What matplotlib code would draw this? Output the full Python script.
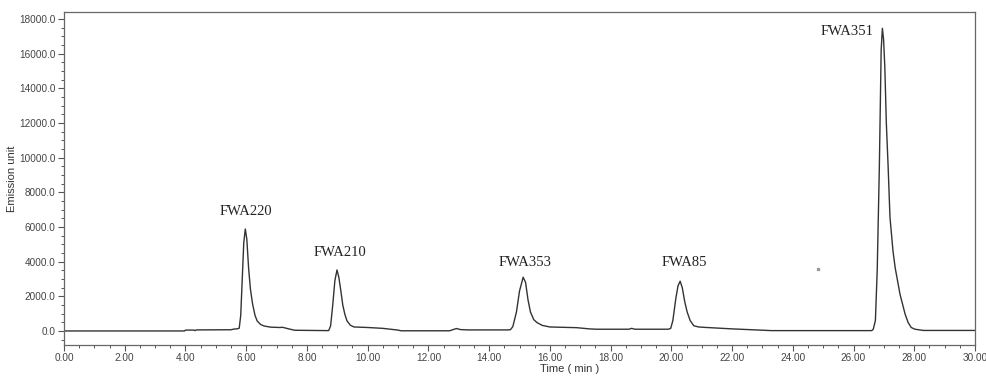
import matplotlib
matplotlib.use("Agg")
import matplotlib.pyplot as plt
from matplotlib.ticker import MultipleLocator, FormatStrFormatter

# Chromatogram trace (time in min, signal in emission units)
time_min = [0.0, 3.97, 4.0, 4.28, 4.32, 4.36, 5.5, 5.6, 5.7, 5.77, 5.82, 5.87, 5.92, 5.97,
            6.02, 6.08, 6.14, 6.21, 6.29, 6.36, 6.47, 6.58, 6.8, 7.1, 7.2, 7.4, 7.6, 8.7,
            8.72, 8.78, 8.85, 8.92, 8.99, 9.05, 9.11, 9.18, 9.25, 9.32, 9.43, 9.55, 10.0,
            10.5, 11.0, 11.1, 12.7, 12.85, 12.93, 13.05, 13.3, 14.6, 14.7, 14.78, 14.9,
            15.0, 15.12, 15.2, 15.28, 15.36, 15.47, 15.58, 15.75, 16.0, 16.88, 17.3,
            17.54, 18.6, 18.69, 18.8, 19.9, 19.98, 20.05, 20.15, 20.22, 20.29, 20.36,
            20.44, 20.52, 20.62, 20.74, 20.9, 21.16, 22.0, 23.3, 26.6, 26.65, 26.72, 26.78,
            26.85, 26.91, 26.95, 26.99, 27.03, 27.08, 27.14, 27.2, 27.3, 27.37, 27.53,
            27.7, 27.8, 27.9, 28.02, 28.3, 30.0]
signal = [0, 0, 50, 50, 20, 60, 70, 110, 120, 160, 900, 3000, 5100, 5880,
          5300, 3600, 2400, 1560, 900, 580, 380, 290, 220, 200, 210, 120, 40, 20,
          30, 300, 1500, 2900, 3520, 3100, 2400, 1500, 950, 580, 330, 230, 200,
          150, 50, 10, 10, 100, 140, 80, 60, 60, 70, 250, 1100,
          2300, 3100, 2800, 1800, 1100, 650, 480, 320, 230, 190, 120,
          100, 100, 150, 100, 100, 150, 600, 1900, 2600, 2870, 2500,
          1700, 1100, 600, 300, 230, 200, 120, 20, 20, 100, 600, 3500,
          9450, 16200, 17460, 16800, 15240, 12000, 9450, 6560, 4600, 3660, 2120,
          960, 480, 200, 100, 30, 30]

peak_names = ["FWA220", "FWA210", "FWA353", "FWA85", "FWA351"]
label_x = [5.98, 9.1, 15.2, 20.44, 25.78]
label_y = [6880, 4520, 3960, 3960, 17250]

artifact_x = [24.83]
artifact_y = [3590]

fig = plt.figure(figsize=(9.86, 3.76), dpi=100)
ax = fig.add_axes([64 / 986, 1 - 345 / 376, (975 - 64) / 986, (345 - 12) / 376])

ax.plot(time_min, signal, color="#333333", lw=1.0)
ax.plot(artifact_x, artifact_y, marker="s", ms=1.5, color="#999999", lw=0)

for name, x, y in zip(peak_names, label_x, label_y):
    ax.text(x, y, name, ha="center", va="center", fontsize=10.5,
            family="Liberation Serif", color="#222222")

ax.set_xlim(0, 30)
ax.set_ylim(-810, 18400)
ax.xaxis.set_major_locator(MultipleLocator(2))
ax.xaxis.set_minor_locator(MultipleLocator(0.5))
ax.yaxis.set_major_locator(MultipleLocator(2000))
ax.yaxis.set_minor_locator(MultipleLocator(500))
ax.xaxis.set_major_formatter(FormatStrFormatter("%.2f"))
ax.yaxis.set_major_formatter(FormatStrFormatter("%.1f"))

for lab in ax.get_xticklabels() + ax.get_yticklabels():
    lab.set_family("Liberation Sans")
ax.tick_params(axis="both", which="major", labelsize=7.2, length=4, width=0.8,
               color="#555555", labelcolor="#444444", pad=2)
ax.tick_params(axis="x", which="major", pad=1.5)
ax.tick_params(axis="both", which="minor", length=2, width=0.7, color="#555555")

for sp in ax.spines.values():
    sp.set_color("#666666")
    sp.set_linewidth(0.9)

ax.set_ylabel("Emission unit", fontsize=8, family="Liberation Sans", color="#333333")
ax.yaxis.set_label_coords(-0.052, 0.5)
ax.set_xlabel("Time ( min )", fontsize=8, family="Liberation Sans", color="#333333")
ax.xaxis.set_label_coords(0.555, -0.058)

fig.savefig("out.png", dpi=100)
